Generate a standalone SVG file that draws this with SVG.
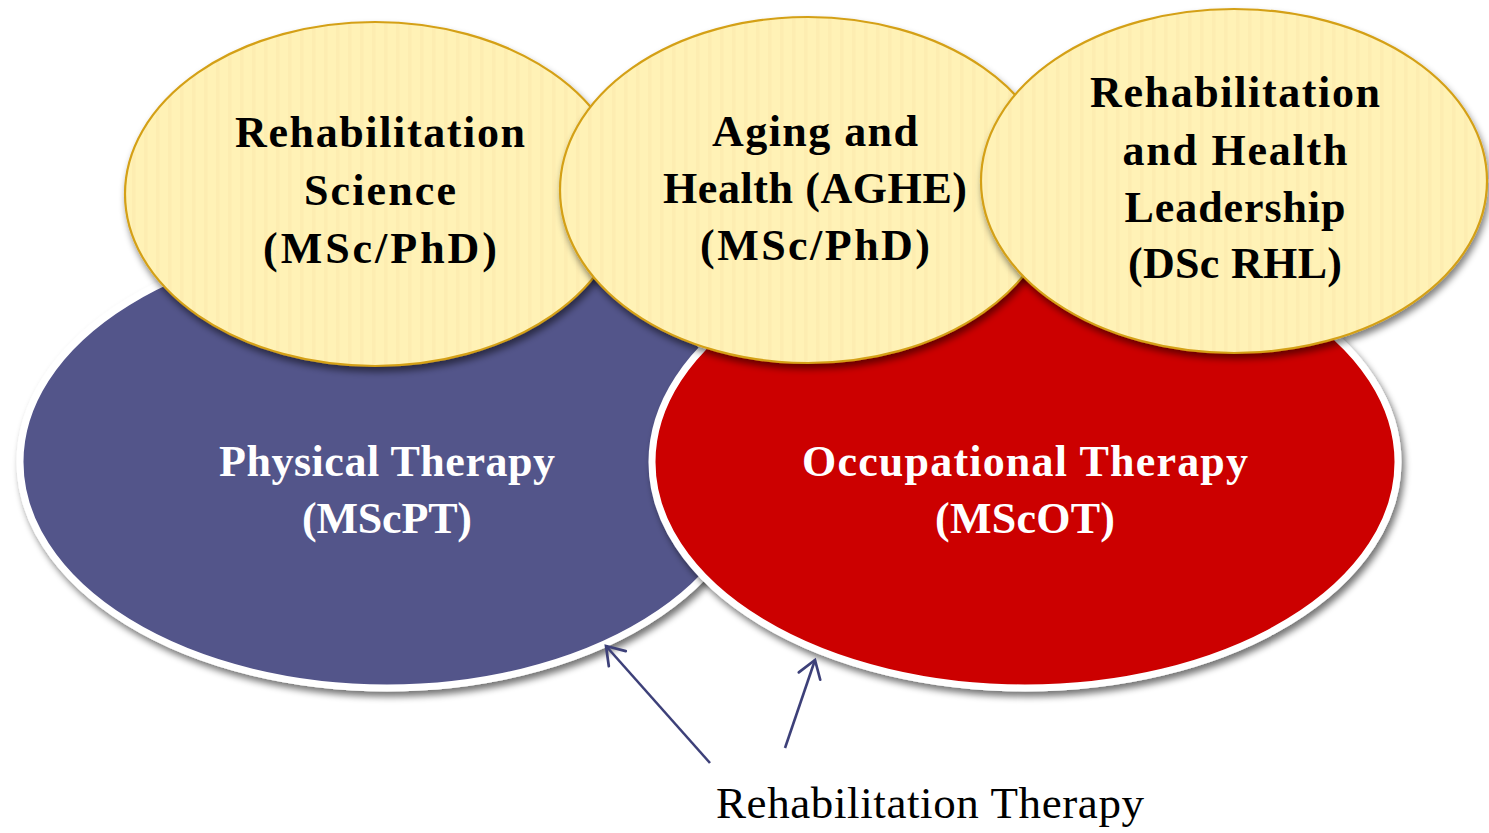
<svg xmlns="http://www.w3.org/2000/svg" width="1489" height="833" viewBox="0 0 1489 833">
  <style>
    .lbl { font-family: "Liberation Serif", "Times New Roman", serif; font-weight: bold; font-size: 44px; text-anchor: middle; }
    .dark { fill: #000000; }
    .light { fill: #FFFFFF; }
    .big { stroke: #FFFFFF; stroke-width: 7; }
    .yel { fill: url(#stripes); stroke: #D4A017; stroke-width: 2.2; }
    .conn { stroke: #3D4079; stroke-width: 2.6; fill: none; marker-end: url(#openArrow); }
    .cap { font-family: "Liberation Serif", "Times New Roman", serif; font-size: 45px; fill: #000000; text-anchor: middle; }
  </style>
  <defs>
    <pattern id="stripes" width="12" height="10" patternUnits="userSpaceOnUse">
      <rect width="12" height="10" fill="#FFF2B6"/>
      <rect x="0" width="3.5" height="10" fill="#FDEDB1"/>
    </pattern>
    <filter id="shadowBig" x="-10%" y="-10%" width="125%" height="130%">
      <feGaussianBlur in="SourceAlpha" stdDeviation="3.5"/>
      <feOffset dx="3" dy="5" result="b"/>
      <feComponentTransfer><feFuncA type="linear" slope="0.55"/></feComponentTransfer>
      <feMerge><feMergeNode/><feMergeNode in="SourceGraphic"/></feMerge>
    </filter>
    <filter id="shadowYel" x="-10%" y="-10%" width="125%" height="130%">
      <feGaussianBlur in="SourceAlpha" stdDeviation="3.5"/>
      <feOffset dx="2" dy="5" result="b"/>
      <feComponentTransfer><feFuncA type="linear" slope="0.5"/></feComponentTransfer>
      <feMerge><feMergeNode/><feMergeNode in="SourceGraphic"/></feMerge>
    </filter>
    <marker id="openArrow" viewBox="0 0 12 12" refX="11" refY="6" markerWidth="17" markerHeight="17" markerUnits="userSpaceOnUse" orient="auto" overflow="visible">
      <path d="M-1,-2 L11,6 L-1,14" fill="none" stroke="#3D4079" stroke-width="1.9" stroke-linecap="round" stroke-linejoin="miter"/>
    </marker>
  </defs>

  <rect width="1489" height="833" fill="#FFFFFF"/>

  <g id="physical-therapy">
    <ellipse class="big" cx="387" cy="462" rx="367" ry="226" fill="#53548A" filter="url(#shadowBig)"/>
    <text class="lbl light" x="387" y="476" textLength="336">Physical Therapy</text>
    <text class="lbl light" x="387" y="533" textLength="170">(MScPT)</text>
  </g>

  <g id="occupational-therapy">
    <ellipse class="big" cx="1025" cy="462" rx="373" ry="226" fill="#CC0000" filter="url(#shadowBig)"/>
    <text class="lbl light" x="1025" y="476" textLength="446">Occupational Therapy</text>
    <text class="lbl light" x="1025" y="533" textLength="180">(MScOT)</text>
  </g>

  <g id="rehabilitation-science">
    <ellipse class="yel" cx="375" cy="194" rx="250" ry="172" filter="url(#shadowYel)"/>
    <text class="lbl dark" x="380" y="147" textLength="290">Rehabilitation</text>
    <text class="lbl dark" x="380" y="205" textLength="152">Science</text>
    <text class="lbl dark" x="380" y="263" textLength="234">(MSc/PhD)</text>
  </g>

  <g id="aging-and-health">
    <ellipse class="yel" cx="808" cy="190" rx="248" ry="173" filter="url(#shadowYel)"/>
    <text class="lbl dark" x="815" y="146" textLength="206">Aging and</text>
    <text class="lbl dark" x="815" y="203" textLength="304">Health (AGHE)</text>
    <text class="lbl dark" x="815" y="260" textLength="230">(MSc/PhD)</text>
  </g>

  <g id="rehab-health-leadership">
    <ellipse class="yel" cx="1234" cy="181" rx="253" ry="172" filter="url(#shadowYel)"/>
    <text class="lbl dark" x="1235" y="107" textLength="290">Rehabilitation</text>
    <text class="lbl dark" x="1235" y="165" textLength="225">and Health</text>
    <text class="lbl dark" x="1235" y="222" textLength="221">Leadership</text>
    <text class="lbl dark" x="1235" y="278" textLength="214">(DSc RHL)</text>
  </g>

  <g id="connectors">
    <line class="conn" x1="710" y1="763" x2="606" y2="646"/>
    <line class="conn" x1="785" y1="748" x2="815" y2="660"/>
  </g>

  <g id="rehabilitation-therapy">
    <text class="cap" x="930" y="818" textLength="428">Rehabilitation Therapy</text>
  </g>
</svg>
